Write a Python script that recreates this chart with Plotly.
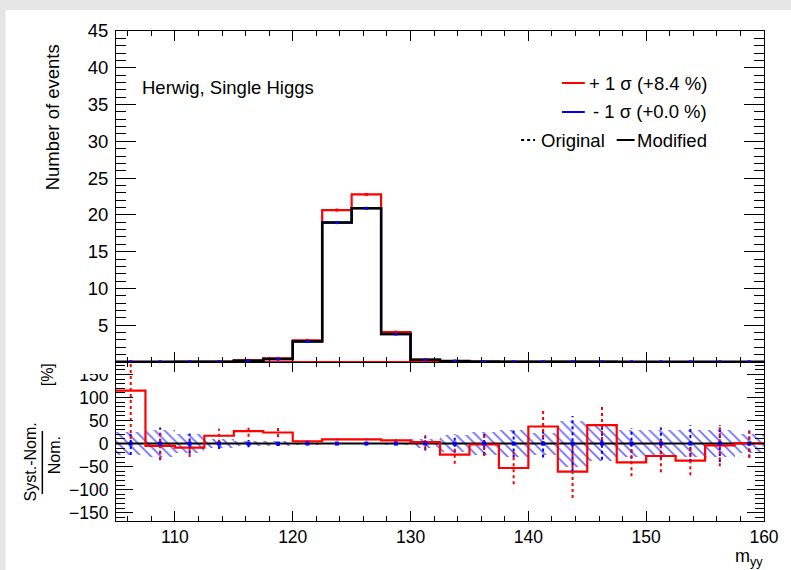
import plotly.graph_objects as go

# ---------------- data ----------------
bin_edges = [105.0, 107.5, 110.0, 112.5, 115.0, 117.5, 120.0, 122.5, 125.0, 127.5, 130.0,
             132.5, 135.0, 137.5, 140.0, 142.5, 145.0, 147.5, 150.0, 152.5, 155.0, 157.5, 160.0]
nominal_events = [0.01, 0.01, 0.02, 0.03, 0.17, 0.40, 2.80, 18.95, 20.90, 3.80, 0.30,
                  0.12, 0.04, 0.03, 0.02, 0.02, 0.02, 0.01, 0.01, 0.01, 0.01, 0.01]
up_shift_pct = [115, -5, -9, 17, 27, 24, 5, 9, 9, 7, 3,
                -24, -2, -53, 37, -61, 40, -41, -27, -37, -4, 1]
down_shift_pct = [0, 0, 0, 0, 0, 0, 0, 0, 0, 0, 0,
                  0, 0, 0, 0, 0, 0, 0, 0, 0, 0, 0]
up_err_pct = [105, 31, 20, 15, 12, 10, 4, 2, 2, 4, 15,
              20, 25, 35, 38, 57, 45, 30, 35, 32, 45, 32]
down_err_pct = [25, 35, 22, 12, 8, 5, 2, 1, 1, 2, 15,
                20, 25, 30, 30, 60, 35, 33, 35, 40, 40, 30]
stat_band_pct = [25, 30, 20, 10, 6, 5, 2, 1, 1, 2, 10,
                 19, 25, 30, 24, 50, 38, 30, 30, 30, 30, 20]
upper_y_ticks = [5, 10, 15, 20, 25, 30, 35, 40, 45]
lower_y_ticks = [-150, -100, -50, 0, 50, 100, 150]
x_ticks = [110, 120, 130, 140, 150, 160]
label_up = "+ 1 σ (+8.4 %)"
label_down = "- 1 σ (+0.0 %)"
label_sample = "Herwig, Single Higgs"

# ---------------- derived ----------------
centers = [(a + b) / 2 for a, b in zip(bin_edges[:-1], bin_edges[1:])]
widths = [b - a for a, b in zip(bin_edges[:-1], bin_edges[1:])]
up_events = [n * (1 + p / 100.0) for n, p in zip(nominal_events, up_shift_pct)]
down_events = [n * (1 + p / 100.0) for n, p in zip(nominal_events, down_shift_pct)]
nominal_ratio = [0 for _ in nominal_events]


def step_y(vals):
    return list(vals) + [vals[-1]]


def bars(cs, vals, errs):
    xs, ys = [], []
    for c, v, e in zip(cs, vals, errs):
        xs += [c, c, None]
        ys += [v - e, v + e, None]
    return xs, ys


RED = "#ff0000"
BLUE = "#0000ff"
FONT = "Liberation Sans, Arial, Helvetica, sans-serif"

fig = go.Figure()

# ---------- upper panel ----------
fig.add_trace(go.Scatter(x=[bin_edges[5], bin_edges[11]], y=[0, 0], mode="lines",
                         line=dict(color=RED, width=2), xaxis="x2", yaxis="y2", showlegend=False))
fig.add_trace(go.Scatter(x=bin_edges, y=step_y(up_events), mode="lines", line_shape="hv",
                         line=dict(color=RED, width=2.2), xaxis="x2", yaxis="y2", showlegend=False))
fig.add_trace(go.Scatter(x=bin_edges, y=step_y(down_events), mode="lines", line_shape="hv",
                         line=dict(color=BLUE, width=2.2), xaxis="x2", yaxis="y2", showlegend=False))
fig.add_trace(go.Scatter(x=bin_edges, y=step_y(nominal_events), mode="lines", line_shape="hv",
                         line=dict(color="black", width=2.5), xaxis="x2", yaxis="y2", showlegend=False))
fig.add_trace(go.Scatter(x=centers, y=up_events, mode="markers",
                         marker=dict(color=RED, size=3, symbol="square"),
                         xaxis="x2", yaxis="y2", showlegend=False))
fig.add_trace(go.Scatter(x=centers, y=down_events, mode="markers",
                         marker=dict(color=BLUE, size=3, symbol="square"),
                         xaxis="x2", yaxis="y2", showlegend=False))

# ---------- lower panel ----------
fig.add_trace(go.Bar(x=centers, y=[2 * b for b in stat_band_pct], base=[-b for b in stat_band_pct],
                     width=widths, marker=dict(color="rgba(0,0,0,0)", line=dict(width=0),
                                               pattern=dict(shape="\\", fgcolor="#6a6aff", fgopacity=1,
                                                            bgcolor="rgba(0,0,0,0)", size=7,
                                                            solidity=0.24, fillmode="overlay")),
                     xaxis="x", yaxis="y", showlegend=False))
fig.add_trace(go.Scatter(x=bin_edges, y=step_y(nominal_ratio), mode="lines", line_shape="hv",
                         line=dict(color="black", width=2), xaxis="x", yaxis="y", showlegend=False))
fig.add_trace(go.Scatter(x=bin_edges, y=step_y(up_shift_pct), mode="lines", line_shape="hv",
                         line=dict(color=RED, width=2.2), xaxis="x", yaxis="y", showlegend=False))
bx, by = bars(centers, down_shift_pct, down_err_pct)
fig.add_trace(go.Scatter(x=bx, y=by, mode="lines", line=dict(color=BLUE, width=2, dash="dot"),
                         xaxis="x", yaxis="y", showlegend=False, connectgaps=False))
rx, ry = bars(centers, up_shift_pct, up_err_pct)
fig.add_trace(go.Scatter(x=rx, y=ry, mode="lines", line=dict(color=RED, width=2, dash="dot"),
                         xaxis="x", yaxis="y", showlegend=False, connectgaps=False))
fig.add_trace(go.Scatter(x=centers, y=down_shift_pct, mode="markers",
                         marker=dict(color=BLUE, size=4, symbol="square"),
                         xaxis="x", yaxis="y", showlegend=False))

# ---------------- layout geometry ----------------
W, H = 791, 570
L, R, T, B = 116, 24, 31, 49
PW, PH = W - L - R, H - T - B
split = (521 - 362) / PH


def px(xp):
    return (xp - L) / PW


def py(yp):
    return (H - B - yp) / PH


axis_common = dict(showline=True, linecolor="black", linewidth=1, mirror="ticks",
                   ticks="inside", tickcolor="black", tickwidth=1, showgrid=False,
                   zeroline=False, tickfont=dict(family=FONT, size=17.5, color="black"))

fig.update_layout(
    width=W, height=H,
    margin=dict(l=L, r=R, t=T, b=B),
    paper_bgcolor="#e6e6e6",
    plot_bgcolor="white",
    bargap=0,
    showlegend=False,
    xaxis=dict(domain=[0, 1], anchor="y", range=[105, 160], tickmode="array", tickvals=x_ticks,
               ticklen=10, minor=dict(tickmode="linear", tick0=0, dtick=2, ticks="inside",
                                       ticklen=5, tickcolor="black", tickwidth=1),
               **axis_common),
    yaxis=dict(domain=[0, split], anchor="x", range=[-168, 177], tickmode="array",
               tickvals=lower_y_ticks, ticklen=17, ticklabelstandoff=3,
               minor=dict(tickmode="linear", tick0=0, dtick=10, ticks="inside",
                          ticklen=9, tickcolor="black", tickwidth=1),
               **axis_common),
    xaxis2=dict(domain=[0, 1], anchor="y2", matches="x", range=[105, 160], showticklabels=False,
                tickmode="array", tickvals=x_ticks, ticklen=10,
                minor=dict(tickmode="linear", tick0=0, dtick=2, ticks="inside",
                           ticklen=5, tickcolor="black", tickwidth=1),
                **axis_common),
    yaxis2=dict(domain=[split, 1], anchor="x2", range=[0, 45], tickmode="array",
                tickvals=upper_y_ticks, ticklen=20, ticklabelstandoff=3,
                minor=dict(tickmode="linear", tick0=0, dtick=1, ticks="inside",
                           ticklen=10, tickcolor="black", tickwidth=1),
                **{k: v for k, v in axis_common.items() if k != "tickfont"},
                tickfont=dict(family=FONT, size=18.5, color="black")),
)

shapes = [
    # white canvas inside the grey window frame
    dict(type="rect", xref="paper", yref="paper", x0=px(5), x1=px(W + 5), y0=py(H + 5), y1=py(10),
         fillcolor="white", line=dict(width=0), layer="below"),
    # upper pad hides the top of the lower pad's "150" label
    dict(type="rect", xref="paper", yref="paper", x0=px(60), x1=px(114), y0=py(374), y1=py(362.5),
         fillcolor="white", line=dict(width=0), layer="above"),
    # legend line samples
    dict(type="line", xref="paper", yref="paper", x0=px(564), x1=px(587), y0=py(83), y1=py(83),
         line=dict(color=RED, width=2)),
    dict(type="line", xref="paper", yref="paper", x0=px(564), x1=px(587), y0=py(112), y1=py(112),
         line=dict(color=BLUE, width=2)),
    dict(type="line", xref="paper", yref="paper", x0=px(523), x1=px(537), y0=py(140), y1=py(140),
         line=dict(color="black", width=2, dash="dot")),
    dict(type="line", xref="paper", yref="paper", x0=px(619), x1=px(637), y0=py(140), y1=py(140),
         line=dict(color="black", width=2)),
    # fraction bar of the ratio title
    dict(type="line", xref="paper", yref="paper", x0=px(42), x1=px(42), y0=py(494), y1=py(431),
         line=dict(color="black", width=1.5)),
]
fig.update_layout(shapes=shapes)


def ann(text, x, y, size, xanchor="center", yanchor="middle", angle=0, family=FONT):
    return dict(text=text, xref="paper", yref="paper", x=px(x), y=py(y), showarrow=False,
                xanchor=xanchor, yanchor=yanchor, textangle=angle,
                font=dict(family=family, size=size, color="black"))


NARROW = "Liberation Sans Narrow, Liberation Sans, Arial, sans-serif"
annotations = [
    ann(label_sample, 140, 87, 18.5, xanchor="left"),
    ann(label_up, 712, 84, 18.5, xanchor="right"),
    ann(label_down, 712, 112, 18.5, xanchor="right"),
    ann("Original", 609, 140, 18.5, xanchor="right"),
    ann("Modified", 712, 140, 18.5, xanchor="right"),
    ann("Number of events", 52, 117, 18.5, angle=-90),
    ann("Syst.-Nom.", 30, 462, 16, angle=-90, family=NARROW),
    ann("Nom.", 55, 455, 16, angle=-90, family=NARROW),
    ann("[%]", 47, 375, 16, angle=-90, family=NARROW),
    ann("m<sub>yy</sub>", 768, 557, 18, xanchor="right"),
]
fig.update_layout(annotations=annotations)

# place the figure flush with the window's top-left corner (no default body margin)
fig.write_html("out.html", config={"displayModeBar": False},
               post_script="document.body.style.margin='0';document.body.style.overflow='hidden';")
